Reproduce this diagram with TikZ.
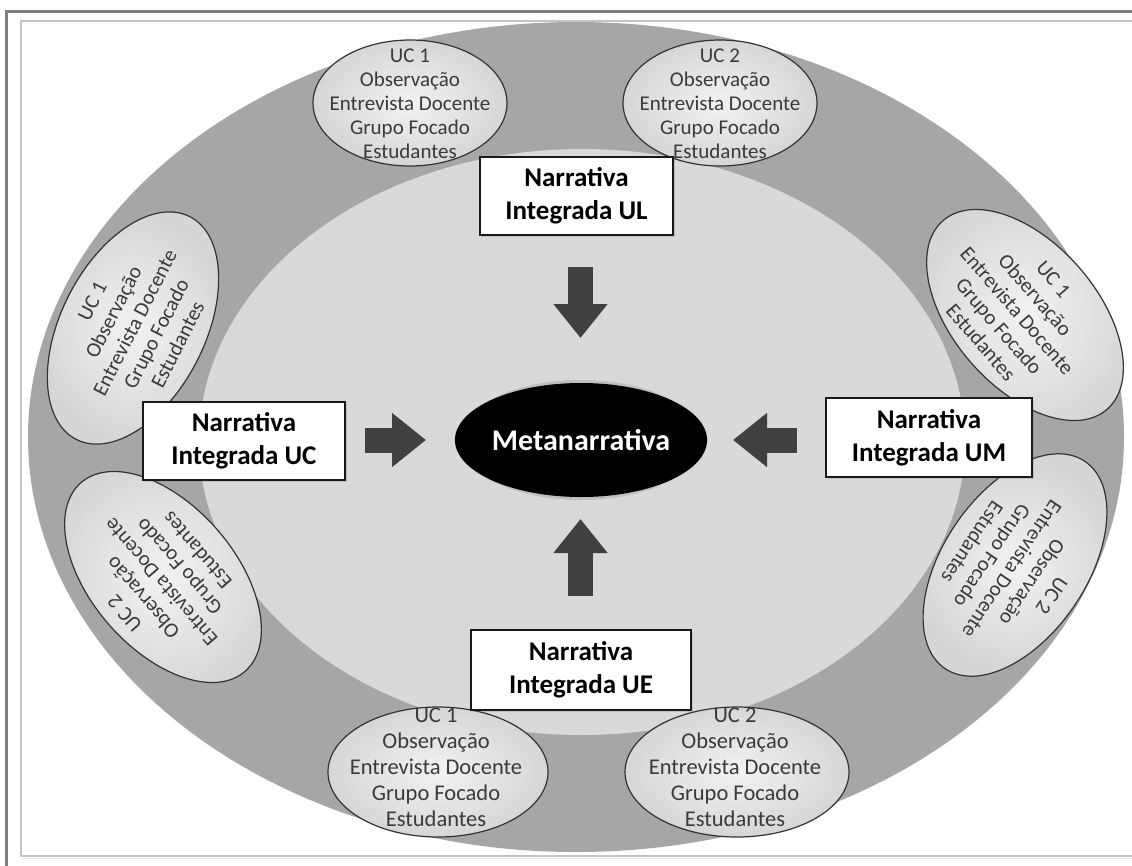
\documentclass[tikz,border=0pt]{standalone}
\usepackage{fontspec}
\setmainfont{Carlito}
\usetikzlibrary{shapes.geometric,arrows.meta,calc,shadows}
\definecolor{outerg}{HTML}{A6A6A6}
\definecolor{innerg}{HTML}{D9D9D9}
\definecolor{arrg}{HTML}{404040}
\definecolor{txtg}{HTML}{3A3A3A}
\definecolor{framedark}{HTML}{7F7F7F}
\definecolor{framelight}{HTML}{C4C4C4}
\newcommand{\uclines}[1]{UC #1\\Observação\\Entrevista Docente\\Grupo Focado\\Estudantes}
\begin{document}
\begin{tikzpicture}[x=1pt,y=-1pt,
  uctext/.style={align=center, text=txtg, font=\fontsize{21}{24}\selectfont, inner sep=0pt},
  ucbig/.style={align=center, text=txtg, font=\fontsize{22.5}{26}\selectfont, inner sep=0pt},
  ucshape/.style={draw=black!80, line width=1.2pt, inner color=white!95!black, outer color=black!16},
  narr/.style={draw=black!90, line width=2pt, fill=white, align=center,
    font=\bfseries\fontsize{27}{33}\selectfont, inner sep=0pt,
    drop shadow={opacity=0.25, shadow xshift=1.5pt, shadow yshift=-1.5pt}},
  blockarrow/.style={draw=arrg, line width=25pt, -{Triangle[length=34pt, width=52pt]}}
]
\useasboundingbox (0,0) rectangle (1132,865);
\fill[white] (0,0) rectangle (1132,865);
% frame
\draw[framedark, line width=3pt] (6,870) -- (6,11) -- (1140,11);
\draw[framelight, line width=2pt] (1140,21) -- (21,21) -- (21,856) -- (1140,856);
\draw[black!12, line width=1.5pt] (23,858.5) -- (1140,858.5);
% background ellipses
\begin{scope}
\clip (22,22) rectangle (1132,855);
\fill[outerg] (576,437) ellipse [x radius=548pt, y radius=415pt];
\end{scope}
\fill[innerg] (582,442) ellipse [x radius=383pt, y radius=293pt];
% UC ellipses
\shade[ucshape] (410,103) ellipse [x radius=97pt, y radius=63pt];
\node[uctext] (t1) at (410,104) {\uclines{1}};
\shade[ucshape] (720,103) ellipse [x radius=97pt, y radius=63pt];
\node[uctext] (t2) at (720,104) {\uclines{2}};
\shade[ucshape] (438,772) ellipse [x radius=110pt, y radius=65pt];
\node[ucbig] (b1) at (436,767) {\uclines{1}};
\shade[ucshape] (737,772) ellipse [x radius=112pt, y radius=65pt];
\node[ucbig] (b2) at (735,767) {\uclines{2}};
\shade[ucshape, rotate around={63:(133,328)}] (133,328) ellipse [x radius=125pt, y radius=72pt];
\node[uctext, rotate=63] (l1) at (135,323) {\uclines{1}};
\shade[ucshape, rotate around={131:(163,577)}] (163,577) ellipse [x radius=125pt, y radius=72pt];
\node[uctext, rotate=131] (l2) at (161,582) {\uclines{2}};
\shade[ucshape, rotate around={-49:(1025,315)}] (1025,315) ellipse [x radius=125pt, y radius=72pt];
\node[uctext, rotate=-49] (r1) at (1017,311) {\uclines{1}};
\shade[ucshape, rotate around={-124:(1015,565)}] (1015,565) ellipse [x radius=125pt, y radius=72pt];
\node[uctext, rotate=-124] (r2) at (1012,569) {\uclines{2}};
% narrative boxes
\node[narr, minimum width=193pt, minimum height=78pt] (ul) at (576.5,196) {Narrativa\\Integrada UL};
\node[narr, minimum width=220pt, minimum height=80pt] (ue) at (581,670) {Narrativa\\Integrada UE};
\node[narr, minimum width=202pt, minimum height=78pt] (uc) at (244,441) {Narrativa\\Integrada UC};
\node[narr, minimum width=206pt, minimum height=79pt] (um) at (929,437.5) {Narrativa\\Integrada UM};
% meta
\fill[black!35, opacity=0.5] (581,440) ellipse [x radius=122pt, y radius=60pt];
\node[ellipse, fill=black, minimum width=238pt, minimum height=114pt, inner sep=0pt,
  text=white, font=\bfseries\fontsize{30}{34}\selectfont] (meta) at (581,440) {Metanarrativa};
% arrows
\coordinate (dA) at (580.5,267);
\coordinate (dB) at (580.5,338);
\coordinate (uA) at (580.5,596);
\coordinate (uB) at (580.5,519);
\coordinate (rA) at (365,440);
\coordinate (rB) at (426,440);
\coordinate (lA) at (797,440);
\coordinate (lB) at (733,440);
\draw[blockarrow] (dA) -- (dB);
\draw[blockarrow] (uA) -- (uB);
\draw[blockarrow] (rA) -- (rB);
\draw[blockarrow] (lA) -- (lB);
\end{tikzpicture}
\end{document}
